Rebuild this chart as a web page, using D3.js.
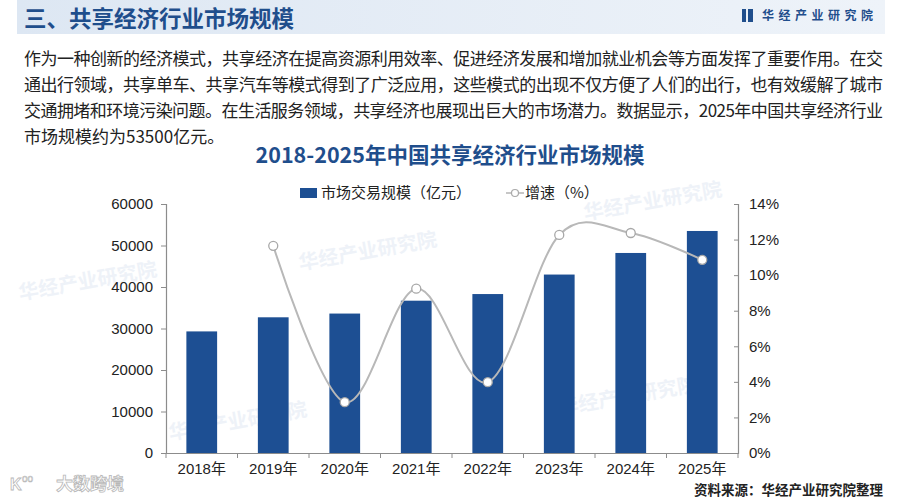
<!DOCTYPE html>
<html>
<head>
<meta charset="utf-8">
<script src="https://cdn.jsdelivr.net/npm/d3@7"></script>
<style>
  body { margin: 0; background: #fff; }
  svg text { font-family: "Liberation Sans", "Noto Sans CJK SC", sans-serif; }
</style>
</head>
<body>
<script>
// chart data
var years = ["2018年", "2019年", "2020年", "2021年", "2022年", "2023年", "2024年", "2025年"];
var scale = [29300, 32700, 33600, 36700, 38300, 43000, 48200, 53500];
var growth = [null, 11.65, 2.86, 9.24, 3.98, 12.26, 12.37, 10.86];
var leftTicks = [0, 10000, 20000, 30000, 40000, 50000, 60000];
var rightTicks = [0, 2, 4, 6, 8, 10, 12, 14];
var bodyLines = [
  "作为一种创新的经济模式，共享经济在提高资源利用效率、促进经济发展和增加就业机会等方面发挥了重要作用。在交",
  "通出行领域，共享单车、共享汽车等模式得到了广泛应用，这些模式的出现不仅方便了人们的出行，也有效缓解了城市",
  "交通拥堵和环境污染问题。在生活服务领域，共享经济也展现出巨大的市场潜力。数据显示，2025年中国共享经济行业",
  "市场规模约为53500亿元。"
];

var width = 900, height = 498;
var margin = {top: 204, left: 166, right: 162, bottom: 45};
var blue = "#1d4f93";
var titleBlue = "#1f4e8c";

var svg = d3.select("body").append("svg")
  .attr("width", width)
  .attr("height", height);

// header band
var grad = svg.append("defs").append("linearGradient").attr("id", "hdr");
grad.append("stop").attr("offset", "0%").attr("stop-color", "#dde7f3");
grad.append("stop").attr("offset", "100%").attr("stop-color", "#eef3f9");
svg.append("rect").attr("x", 17).attr("y", 0).attr("width", 868).attr("height", 34)
  .attr("fill", "url(#hdr)");

svg.append("text").attr("x", 24).attr("y", 27)
  .attr("font-size", 22.5).attr("font-weight", "bold").attr("fill", titleBlue)
  .style("font-family", "'Noto Sans CJK SC', sans-serif")
  .text("三、共享经济行业市场规模");

// logo
svg.append("rect").attr("x", 742).attr("y", 9).attr("width", 4).attr("height", 13).attr("fill", titleBlue);
svg.append("rect").attr("x", 748).attr("y", 9).attr("width", 5).attr("height", 13).attr("fill", titleBlue);
svg.append("text").attr("x", 762).attr("y", 20)
  .attr("font-size", 12).attr("font-weight", "bold").attr("fill", titleBlue)
  .attr("letter-spacing", 4.5)
  .style("font-family", "'Noto Sans CJK SC', sans-serif")
  .text("华经产业研究院");

// faint watermarks
var marks = [[300, 270], [585, 220], [560, 415], [20, 300], [170, 440]];
svg.selectAll(".wm").data(marks).enter().append("text")
  .attr("class", "wm")
  .attr("transform", function(d) { return "translate(" + d[0] + "," + d[1] + ") rotate(-10)"; })
  .attr("font-size", 20).attr("font-weight", "bold")
  .attr("fill", "#c9d6ea").attr("opacity", 0.3)
  .style("font-family", "'Noto Sans CJK SC', sans-serif")
  .text("华经产业研究院");

// body text
svg.selectAll(".body").data(bodyLines).enter().append("text")
  .attr("class", "body")
  .attr("x", 24)
  .attr("y", function(d, i) { return 65 + i * 26; })
  .attr("font-size", 17).attr("fill", "#222")
  .attr("textLength", function(d, i) { return i < 3 ? 859 : null; })
  .attr("lengthAdjust", "spacing")
  .style("font-family", "'Noto Sans CJK SC', sans-serif")
  .text(function(d) { return d; });

// chart title
svg.append("text").attr("x", 450).attr("y", 163)
  .attr("text-anchor", "middle")
  .attr("font-size", 21.5).attr("font-weight", "bold").attr("fill", titleBlue)
  .style("font-family", "'Noto Sans CJK SC', sans-serif")
  .text("2018-2025年中国共享经济行业市场规模");

// legend
svg.append("rect").attr("x", 300).attr("y", 188).attr("width", 17).attr("height", 10).attr("fill", blue);
svg.append("text").attr("x", 321).attr("y", 198).attr("font-size", 15).attr("fill", "#222")
  .style("font-family", "'Noto Sans CJK SC', sans-serif")
  .text("市场交易规模（亿元）");
svg.append("line").attr("x1", 506).attr("x2", 524).attr("y1", 193).attr("y2", 193)
  .attr("stroke", "#b5b5b5").attr("stroke-width", 1.5);
svg.append("circle").attr("cx", 515).attr("cy", 193).attr("r", 3.5)
  .attr("fill", "#fff").attr("stroke", "#aaa").attr("stroke-width", 1.2);
svg.append("text").attr("x", 525).attr("y", 198).attr("font-size", 15).attr("fill", "#222")
  .style("font-family", "'Noto Sans CJK SC', sans-serif")
  .text("增速（%）");

// scales
var xScale = d3.scaleBand()
  .domain(years)
  .range([margin.left, width - margin.right])
  .paddingInner(0.57)
  .paddingOuter(0.285);

var yScale = d3.scaleLinear()
  .domain([0, 60000])
  .range([height - margin.bottom, margin.top]);

var y2Scale = d3.scaleLinear()
  .domain([0, 14])
  .range([height - margin.bottom, margin.top]);

// bars
svg.selectAll(".bar").data(scale).enter().append("rect")
  .attr("class", "bar")
  .attr("x", function(d, i) { return xScale(years[i]); })
  .attr("y", function(d) { return yScale(d); })
  .attr("width", xScale.bandwidth())
  .attr("height", function(d) { return yScale(0) - yScale(d); })
  .attr("fill", blue);

// axes
var axisColor = "#8c8c8c";
var leftAxis = svg.append("g")
  .attr("transform", "translate(" + margin.left + ",0)")
  .call(d3.axisLeft(yScale).tickValues(leftTicks).tickSize(5).tickPadding(8)
    .tickFormat(d3.format("d")));

var rightAxis = svg.append("g")
  .attr("transform", "translate(" + (width - margin.right) + ",0)")
  .call(d3.axisRight(y2Scale).tickValues(rightTicks).tickSize(-4).tickPadding(11)
    .tickFormat(function(d) { return d + "%"; }));

var bottomAxis = svg.append("g")
  .attr("transform", "translate(0," + (height - margin.bottom) + ")")
  .call(d3.axisBottom(xScale).tickSize(0).tickPadding(10));

// category boundary ticks
var step = xScale.step();
var bounds = d3.range(years.length + 1).map(function(i) { return margin.left + i * step; });
bottomAxis.selectAll(".bnd").data(bounds).enter().append("line")
  .attr("class", "bnd")
  .attr("x1", function(d) { return d; }).attr("x2", function(d) { return d; })
  .attr("y1", 0).attr("y2", 5)
  .attr("stroke", axisColor);

[leftAxis, rightAxis, bottomAxis].forEach(function(g) {
  g.select(".domain").attr("stroke", axisColor).attr("stroke-width", 1.2);
  g.selectAll(".tick line").attr("stroke", axisColor);
  g.selectAll("text").attr("font-size", 15).attr("fill", "#222");
});

// growth line
var pts = growth.map(function(d, i) { return {x: years[i], v: d}; })
  .filter(function(d) { return d.v !== null; });

var line = d3.line()
  .x(function(d) { return xScale(d.x) + xScale.bandwidth() / 2; })
  .y(function(d) { return y2Scale(d.v); })
  .curve(d3.curveCardinal.tension(0));

svg.append("path").datum(pts)
  .attr("d", line)
  .attr("fill", "none")
  .attr("stroke", "#b8b8b8")
  .attr("stroke-width", 2);

svg.selectAll(".pt").data(pts).enter().append("circle")
  .attr("class", "pt")
  .attr("cx", function(d) { return xScale(d.x) + xScale.bandwidth() / 2; })
  .attr("cy", function(d) { return y2Scale(d.v); })
  .attr("r", 4.5)
  .attr("fill", "#fff")
  .attr("stroke", "#a8a8a8")
  .attr("stroke-width", 1.3);

// source
svg.append("text").attr("x", 883).attr("y", 495)
  .attr("text-anchor", "end")
  .attr("font-size", 13.5).attr("font-weight", "bold").attr("fill", "#222")
  .style("font-family", "'Noto Sans CJK SC', sans-serif")
  .text("资料来源：华经产业研究院整理");

// corner watermark
svg.append("text").attr("x", 56).attr("y", 490)
  .attr("font-size", 17).attr("font-weight", "bold")
  .attr("fill", "#fff").attr("stroke", "#b8b8b8").attr("stroke-width", 0.8)
  .style("font-family", "'Noto Sans CJK SC', sans-serif")
  .text("大数跨境");
svg.append("text").attr("x", 10).attr("y", 490)
  .attr("font-size", 16).attr("font-weight", "bold")
  .attr("fill", "#fff").attr("stroke", "#b8b8b8").attr("stroke-width", 0.8)
  .text("K");
svg.append("text").attr("x", 22).attr("y", 482)
  .attr("font-size", 10)
  .attr("fill", "#fff").attr("stroke", "#b8b8b8").attr("stroke-width", 0.6)
  .text("oo");
</script>
</body>
</html>
